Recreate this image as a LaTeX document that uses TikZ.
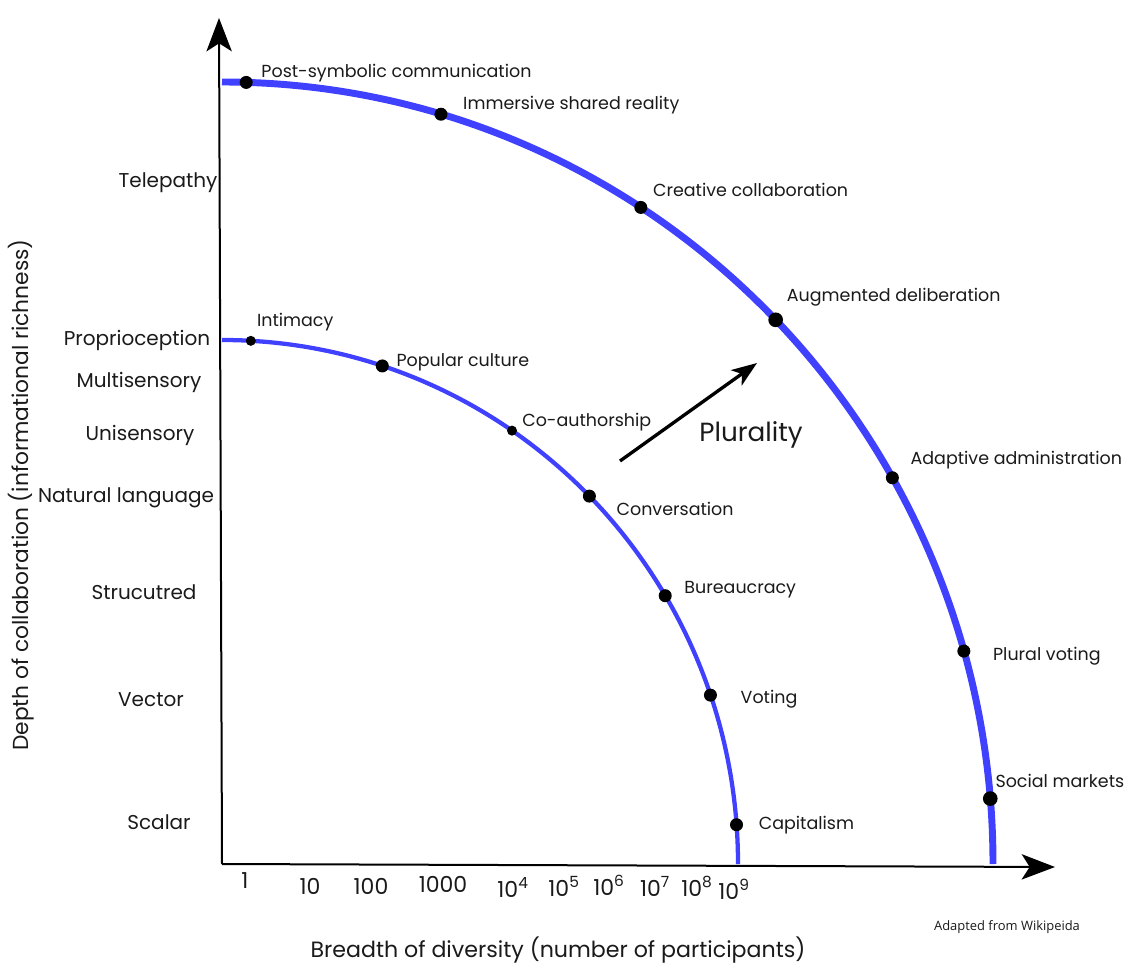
\documentclass[tikz,border=0pt]{standalone}
\usepackage{fontspec}
\setmainfont{Poppins}
\newfontfamily\notefont{Open Sans}
\usetikzlibrary{arrows.meta, positioning}
\definecolor{arcblue}{RGB}{64, 64, 255}
\definecolor{inkgray}{RGB}{26, 26, 26}
\tikzset{
  axis/.style={
    line width=1.5pt,
    -{Stealth[length=25pt, width=19pt, inset=6pt]}
  },
  push/.style={
    line width=2.5pt,
    -{Stealth[length=19pt, width=14pt, inset=5pt]}
  },
  outer arc/.style={draw=arcblue, line width=5.2pt},
  inner arc/.style={draw=arcblue, line width=3.2pt},
  dot/.style={circle, fill=black, inner sep=0pt, minimum size=9.75pt},
  small dot/.style={dot, minimum size=7.5pt},
  tag/.style={
    anchor=base west,
    inner sep=0pt,
    text=inkgray,
    font=\fontsize{13.1}{16}\selectfont
  },
  level/.style={
    anchor=base,
    inner sep=0pt,
    text=inkgray,
    font=\fontsize{15}{18}\selectfont
  },
  tick/.style={level, font=\fontsize{16.5}{19}\selectfont},
  title/.style={
    anchor=base,
    inner sep=0pt,
    text=inkgray,
    font=\fontsize{16.6}{19}\selectfont
  }
}

\begin{document}
\begin{tikzpicture}[x=0.75pt, y=0.75pt]
  \useasboundingbox (0,0) rectangle (1131,976);

  \coordinate (o) at (222,112);
  \coordinate (ytip) at (219,958);
  \coordinate (xtip) at (1055,109);

  \draw[outer arc] (222,894) arc[start angle=90, end angle=0, x radius=771, y radius=782];
  \draw[inner arc] (222,636) arc[start angle=90, end angle=0, x radius=516, y radius=524];

  \draw[axis] (o) -- (ytip);
  \draw[axis] (o) -- (xtip);

  \node[dot] (o1) at ([shift={(88.2:771 and 782)}]o) {};
  \node[dot] (o2) at ([shift={(73.5:771 and 782)}]o) {};
  \node[dot] (o3) at ([shift={(57.1:771 and 782)}]o) {};
  \node[dot, minimum size=11pt] (o4) at ([shift={(44.1:771 and 782)}]o) {};
  \node[dot] (o5) at ([shift={(29.6:771 and 782)}]o) {};
  \node[dot] (o6) at ([shift={(15.8:771 and 782)}]o) {};
  \node[dot, minimum size=11pt] (o7) at ([shift={(4.8:771 and 782)}]o) {};

  \node[tag] (lo1) at ([shift={(15,5)}]o1) {Post-symbolic communication};
  \node[tag] (lo2) at ([shift={(22,5)}]o2) {Immersive shared reality};
  \node[tag] (lo3) at ([shift={(12,11)}]o3) {Creative collaboration};
  \node[tag] (lo4) at ([shift={(11,18)}]o4) {Augmented deliberation};
  \node[tag] (lo5) at ([shift={(18,13)}]o5) {Adaptive administration};
  \node[tag] (lo6) at ([shift={(29,-9)}]o6) {Plural voting};
  \node[tag] (lo7) at ([shift={(5,11)}]o7) {Social markets};

  \node[small dot] (i1) at ([shift={(86.8:516 and 524)}]o) {};
  \node[dot] (i2) at ([shift={(71.9:516 and 524)}]o) {};
  \node[small dot] (i3) at ([shift={(55.8:516 and 524)}]o) {};
  \node[dot] (i4) at ([shift={(44.6:516 and 524)}]o) {};
  \node[dot] (i5) at ([shift={(30.8:516 and 524)}]o) {};
  \node[dot] (i6) at ([shift={(18.8:516 and 524)}]o) {};
  \node[dot] (i7) at ([shift={(4.3:516 and 524)}]o) {};

  \node[tag] (li1) at ([shift={(6,14)}]i1) {Intimacy};
  \node[tag] (li2) at ([shift={(14,-1)}]i2) {Popular culture};
  \node[tag] (li3) at ([shift={(10,4)}]i3) {Co-authorship};
  \node[tag] (li4) at ([shift={(27,-19)}]i4) {Conversation};
  \node[tag] (li5) at ([shift={(19,2)}]i5) {Bureaucracy};
  \node[tag] (li6) at ([shift={(30,-8)}]i6) {Voting};
  \node[tag] (li7) at ([shift={(22,-5)}]i7) {Capitalism};

  \node[level] (telepathy) at (168,788) {Telepathy};
  \node[level] (proprio) at (137,630) {Proprioception};
  \node[level] (multi) at (139,588) {Multisensory};
  \node[level] (uni) at (140,536) {Unisensory};
  \node[level] (natural) at (126,474) {Natural language};
  \node[level] (struct) at (144,377) {Strucutred};
  \node[level] (vector) at (151,270) {Vector};
  \node[level] (scalar) at (159,147) {Scalar};

  \node[tick] (n0) at (245,88) {1};
  \node[tick] (n1) at (310,82) {10};
  \node[tick] (n2) at (371,82) {100};
  \node[tick] (n3) at (443,84) {1000};
  \node[tick] (n4) at (513,79) {10\textsuperscript{4}};
  \node[tick] (n5) at (564,80) {10\textsuperscript{5}};
  \node[tick] (n6) at (609,81) {10\textsuperscript{6}};
  \node[tick] (n7) at (655,80) {10\textsuperscript{7}};
  \node[tick] (n8) at (697,80) {10\textsuperscript{8}};
  \node[tick] (n9) at (734,77) {10\textsuperscript{9}};

  \coordinate (pfrom) at (620,515);
  \coordinate (pto) at (757,613);
  \draw[push] (pfrom) -- (pto);
  \node[title, font=\fontsize{19.7}{23}\selectfont] (plural) at (751,535) {Plurality};

  \node[title] (xtitle) at (558,19) {Breadth of diversity (number of participants)};
  \node[title, rotate=90, font=\fontsize{16.3}{19}\selectfont] (ytitle) at (28,481) {Depth of collaboration (informational richness)};
  \node[anchor=base, inner sep=0pt, text=inkgray, font=\notefont\fontsize{9.7}{11}\selectfont] (source) at (1007,46) {Adapted from Wikipeida};
\end{tikzpicture}
\end{document}
